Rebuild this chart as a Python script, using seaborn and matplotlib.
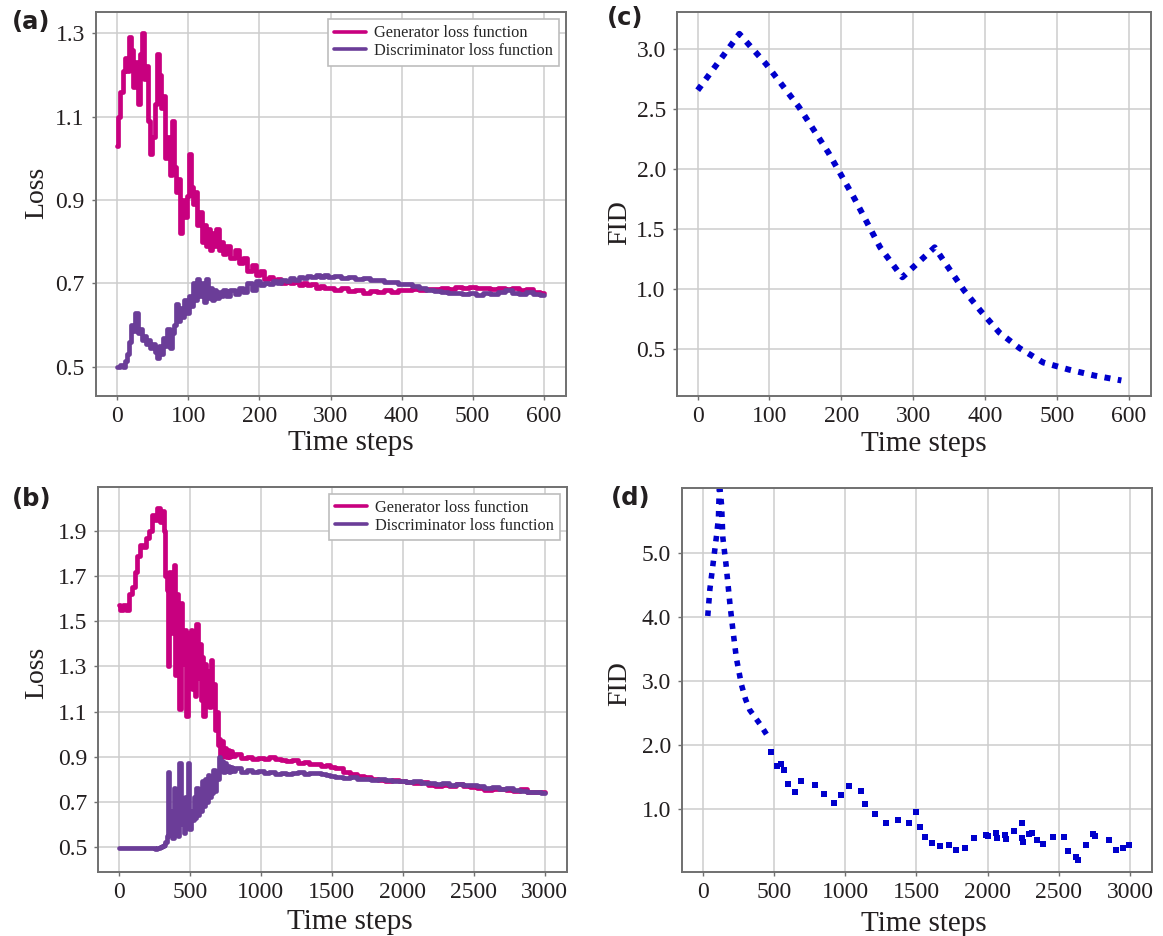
import matplotlib
matplotlib.use("Agg")
import matplotlib.pyplot as plt
import numpy as np
import pandas as pd
import seaborn as sns
from matplotlib.ticker import FormatStrFormatter, MultipleLocator

# ---- (a) losses over 600 time steps
steps_a = np.concatenate([np.arange(0, 151, 3), np.arange(156, 301, 6), np.arange(310, 601, 10)])
gen_a = [1.03, 1.10, 1.16, 1.21, 1.24, 1.21, 1.29, 1.26, 1.17, 1.23,
         1.13, 1.25, 1.30, 1.19, 1.22, 1.09, 1.01, 1.05, 1.13, 1.25,
         1.20, 1.12, 1.15, 1.00, 1.05, 0.96, 1.09, 0.98, 0.92, 0.95,
         0.82, 0.90, 0.86, 0.91, 1.01, 0.93, 0.89, 0.92, 0.84, 0.87,
         0.80, 0.84, 0.79, 0.83, 0.78, 0.82, 0.79, 0.83, 0.78, 0.80,
         0.77,
         0.79, 0.76, 0.78, 0.75, 0.76, 0.73, 0.745, 0.72, 0.73, 0.71,
         0.715, 0.705, 0.71, 0.70, 0.705, 0.70, 0.703, 0.697, 0.70, 0.695,
         0.698, 0.69, 0.694, 0.688, 0.69,
         0.685, 0.688, 0.682, 0.684, 0.678, 0.682, 0.679, 0.683, 0.680, 0.684,
         0.683, 0.686, 0.684, 0.687, 0.686, 0.69, 0.687, 0.691, 0.688, 0.692,
         0.688, 0.69, 0.686, 0.689, 0.686, 0.69, 0.684, 0.687, 0.68, 0.676]
disc_a = [0.50, 0.50, 0.505, 0.50, 0.515, 0.53, 0.56, 0.60, 0.585, 0.63,
          0.58, 0.59, 0.565, 0.575, 0.555, 0.565, 0.545, 0.555, 0.535, 0.52,
          0.55, 0.53, 0.57, 0.55, 0.59, 0.545, 0.58, 0.60, 0.65, 0.61,
          0.64, 0.62, 0.66, 0.63, 0.67, 0.645, 0.70, 0.66, 0.71, 0.67,
          0.70, 0.655, 0.71, 0.665, 0.69, 0.66, 0.685, 0.665, 0.68, 0.67,
          0.685,
          0.67, 0.685, 0.675, 0.69, 0.68, 0.70, 0.685, 0.705, 0.695, 0.70,
          0.698, 0.705, 0.70, 0.708, 0.705, 0.712, 0.708, 0.715, 0.712, 0.718,
          0.715, 0.72, 0.716, 0.719, 0.716,
          0.718, 0.713, 0.716, 0.711, 0.712, 0.707, 0.709, 0.704, 0.703, 0.699,
          0.698, 0.693, 0.69, 0.685, 0.682, 0.679, 0.676, 0.678, 0.674, 0.676,
          0.673, 0.677, 0.675, 0.679, 0.683, 0.678, 0.674, 0.679, 0.674, 0.672]

# ---- (b) losses over 3000 time steps
steps_b = np.concatenate([np.arange(0, 281, 20), np.arange(300, 801, 10),
                          np.arange(840, 1481, 40), np.arange(1500, 3001, 50)])
gen_b = [1.57, 1.55, 1.57, 1.55, 1.62, 1.65, 1.72, 1.79, 1.84, 1.83, 1.87, 1.90, 1.97, 1.95, 2.00,
         1.94, 1.99, 1.90, 1.70, 1.64, 1.30, 1.72, 1.45, 1.60, 1.75,
         1.26, 1.62, 1.50, 1.11, 1.58, 1.40, 1.31, 1.46, 1.08, 1.45,
         1.28, 1.46, 1.20, 1.38, 1.17, 1.49, 1.25, 1.40, 1.15, 1.34,
         1.08, 1.31, 1.22, 1.28, 1.12, 1.33, 1.16, 1.22, 1.02, 1.10,
         0.95, 0.98, 0.90, 0.97, 0.91, 0.94, 0.90, 0.93, 0.90, 0.925,
         0.905,
         0.91, 0.895, 0.90, 0.89, 0.893, 0.888, 0.897, 0.89, 0.885, 0.88,
         0.884, 0.874, 0.876, 0.866, 0.868, 0.86, 0.862,
         0.853, 0.848, 0.832, 0.824, 0.815, 0.81, 0.803, 0.798, 0.793, 0.797,
         0.79, 0.788, 0.782, 0.786, 0.776, 0.772, 0.776, 0.771, 0.778, 0.772,
         0.767, 0.76, 0.752, 0.757, 0.758, 0.752, 0.749, 0.756, 0.745, 0.742,
         0.742]
disc_b = [0.495, 0.495, 0.495, 0.495, 0.497, 0.495, 0.494, 0.495, 0.495, 0.495, 0.494, 0.495, 0.495, 0.493, 0.496,
          0.50, 0.505, 0.51, 0.52, 0.55, 0.83, 0.56, 0.66, 0.54, 0.76,
          0.57, 0.66, 0.55, 0.87, 0.60, 0.68, 0.56, 0.72, 0.60, 0.87,
          0.58, 0.66, 0.62, 0.72, 0.63, 0.76, 0.64, 0.74, 0.66, 0.79,
          0.68, 0.80, 0.70, 0.82, 0.72, 0.80, 0.74, 0.84, 0.75, 0.81,
          0.80, 0.90, 0.84, 0.88, 0.83, 0.87, 0.84, 0.86, 0.83, 0.855,
          0.835,
          0.85, 0.832, 0.84, 0.83, 0.835, 0.826, 0.83, 0.824, 0.828, 0.822,
          0.826, 0.83, 0.824, 0.828, 0.826, 0.822, 0.818,
          0.816, 0.81, 0.806, 0.808, 0.80, 0.802, 0.797, 0.80, 0.795, 0.79,
          0.794, 0.786, 0.79, 0.782, 0.785, 0.778, 0.782, 0.776, 0.78, 0.774,
          0.776, 0.768, 0.762, 0.766, 0.757, 0.76, 0.752, 0.748, 0.742, 0.745,
          0.741]

# ---- (c) FID over 600 time steps
fid_c_steps = [0, 58, 95, 141, 182, 218, 254, 285, 330, 348, 371, 394, 420, 448, 481, 517, 553, 590]
fid_c = [2.66, 3.13, 2.88, 2.52, 2.14, 1.76, 1.35, 1.10, 1.35, 1.19, 0.99, 0.82, 0.64, 0.51, 0.39, 0.33, 0.28, 0.24]

# ---- (d) FID over 3000 time steps (dense dotted part, then scattered dots)
fid_d_steps = [35, 50, 73, 97, 110, 117, 132, 141, 163, 191, 212, 236, 271, 300, 330, 405, 456]
fid_d = [4.02, 4.44, 4.85, 5.28, 5.55, 6.10, 5.75, 5.24, 4.83, 4.20, 3.79, 3.36, 2.95, 2.72, 2.55, 2.32, 2.14]
dots_d_steps = [477, 521, 551, 572, 596, 650, 692, 785, 848, 918, 972, 1030, 1110, 1138, 1208,
                1283, 1374, 1451, 1495, 1523, 1558, 1610, 1668, 1726, 1778, 1843, 1901, 1986,
                2002, 2056, 2065, 2119, 2126, 2182, 2238, 2243, 2247, 2292, 2315, 2350, 2390,
                2462, 2537, 2567, 2619, 2633, 2689, 2738, 2754, 2850, 2901, 2953, 2995]
dots_d = [1.90, 1.68, 1.70, 1.62, 1.40, 1.27, 1.44, 1.38, 1.24, 1.10, 1.23, 1.36, 1.29, 1.08, 0.93,
          0.79, 0.83, 0.79, 0.95, 0.72, 0.57, 0.47, 0.43, 0.44, 0.36, 0.39, 0.55, 0.60,
          0.58, 0.63, 0.55, 0.59, 0.53, 0.66, 0.78, 0.55, 0.49, 0.61, 0.63, 0.52, 0.45,
          0.57, 0.57, 0.35, 0.26, 0.21, 0.44, 0.61, 0.58, 0.52, 0.36, 0.39, 0.44]

GEN_LABEL = "Generator loss function"
DISC_LABEL = "Discriminator loss function"
PALETTE = {GEN_LABEL: "#c8007f", DISC_LABEL: "#6b3d98"}
FID_COLOR = "#0000cc"
DOTTED = (0, (1.0, 1.25))

sns.set_theme(style="whitegrid")
plt.rcParams.update({
    "font.family": ["Liberation Serif", "DejaVu Serif"],
    "axes.edgecolor": "#707070",
    "axes.linewidth": 1.4,
    "grid.color": "#cdcdcd",
    "grid.linewidth": 1.1,
    "xtick.bottom": True,
    "ytick.left": True,
    "xtick.direction": "out",
    "ytick.direction": "out",
    "xtick.major.size": 3,
    "ytick.major.size": 3,
    "xtick.major.width": 1.0,
    "ytick.major.width": 1.0,
    "xtick.color": "#707070",
    "ytick.color": "#707070",
    "xtick.labelcolor": "#231f20",
    "ytick.labelcolor": "#231f20",
    "xtick.labelsize": 17,
    "ytick.labelsize": 17,
    "xtick.major.pad": 4,
    "ytick.major.pad": 5,
    "lines.dash_capstyle": "butt",
})


def style_axes(ax, xlim, ylim, xstep, yticks, ylabel, xlab_x, xlab_y, ylab_x, ylab_y):
    ax.set_xlim(*xlim)
    ax.set_ylim(*ylim)
    ax.xaxis.set_major_locator(MultipleLocator(xstep))
    ax.set_yticks(yticks)
    ax.yaxis.set_major_formatter(FormatStrFormatter("%.1f"))
    ax.set_axisbelow(True)
    ax.set_xlabel("Time steps", fontsize=21, color="#231f20")
    ax.set_ylabel(ylabel, fontsize=20, color="#231f20")
    ax.xaxis.set_label_coords(xlab_x, xlab_y)
    ax.yaxis.set_label_coords(ylab_x, ylab_y)


def draw_loss(ax, steps, gen, disc):
    df = pd.DataFrame({"step": steps, GEN_LABEL: gen, DISC_LABEL: disc})
    long_df = df.melt("step", var_name="series", value_name="loss")
    sns.lineplot(data=long_df, x="step", y="loss", hue="series", palette=PALETTE,
                 linewidth=3.4, drawstyle="steps-mid", errorbar=None, legend=False, ax=ax)
    leg = ax.legend(ax.lines[:2], [GEN_LABEL, DISC_LABEL], loc="upper right",
                    fontsize=11.8, frameon=True, fancybox=False, framealpha=1,
                    edgecolor="#bdbdbd", borderpad=0.4, labelspacing=0.1,
                    handlelength=1.9, handletextpad=0.5, borderaxespad=0.4)
    leg.get_frame().set_linewidth(1.2)
    for line in leg.get_lines():
        line.set_linewidth(2.6)


fig = plt.figure(figsize=(11.63, 9.36), dpi=100)
ax_a = fig.add_axes([0.0825, 0.5769, 0.404, 0.410])
ax_c = fig.add_axes([0.582, 0.5769, 0.4075, 0.410])
ax_b = fig.add_axes([0.0843, 0.0684, 0.403, 0.4113])
ax_d = fig.add_axes([0.5864, 0.0684, 0.404, 0.4103])

draw_loss(ax_a, steps_a, gen_a, disc_a)
style_axes(ax_a, (-30, 631), (0.43, 1.35), 100, [0.5, 0.7, 0.9, 1.1, 1.3], "Loss",
           0.542, -0.088, -0.10, 0.53)

draw_loss(ax_b, steps_b, gen_b, disc_b)
style_axes(ax_b, (-148, 3155), (0.389, 2.095), 500, [0.5, 0.7, 0.9, 1.1, 1.3, 1.5, 1.7, 1.9], "Loss",
           0.537, -0.097, -0.105, 0.516)

sns.lineplot(x=fid_c_steps, y=fid_c, color=FID_COLOR, linewidth=4.3, linestyle=DOTTED,
             sort=False, errorbar=None, ax=ax_c)
style_axes(ax_c, (-29, 631), (0.11, 3.31), 100, [0.5, 1.0, 1.5, 2.0, 2.5, 3.0], "FID",
           0.521, -0.092, -0.095, 0.453)

sns.lineplot(x=fid_d_steps, y=fid_d, color=FID_COLOR, linewidth=4.0, linestyle=DOTTED,
             sort=False, errorbar=None, ax=ax_d)
sns.scatterplot(x=dots_d_steps, y=dots_d, color=FID_COLOR, marker="s", s=22,
                linewidth=0, ax=ax_d)
style_axes(ax_d, (-146, 3153), (0.02, 6.02), 500, [1.0, 2.0, 3.0, 4.0, 5.0], "FID",
           0.515, -0.102, -0.106, 0.49)

for label, x, y in [("(a)", 0.010, 0.977), ("(b)", 0.010, 0.467), ("(c)", 0.522, 0.981), ("(d)", 0.525, 0.468)]:
    fig.text(x, y, label, fontsize=17.5, fontweight="bold", color="#231f20",
             family=["DejaVu Sans"], ha="left", va="center")

fig.savefig("out.png", dpi=100)
